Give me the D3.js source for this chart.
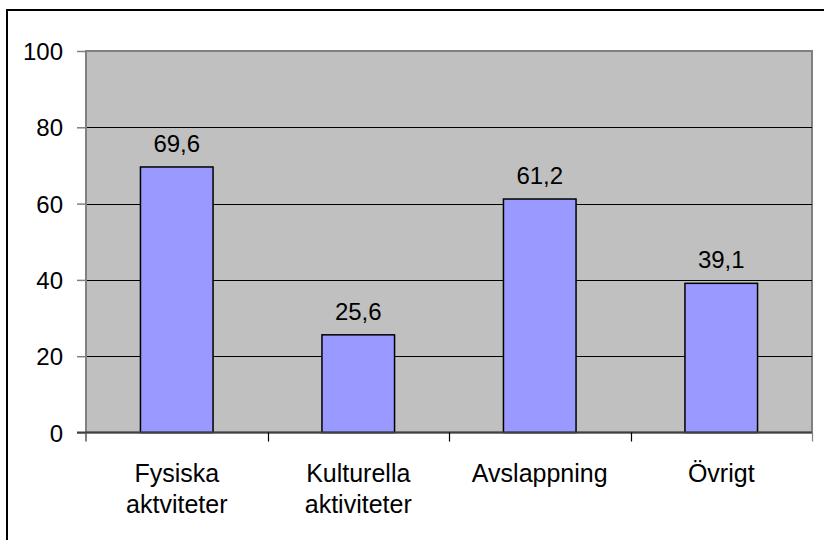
<!DOCTYPE html>
<html>
<head>
<meta charset="utf-8">
<script src="https://cdn.jsdelivr.net/npm/d3@7"></script>
<style>
html,body{margin:0;padding:0;background:#fff;}
svg{display:block;}
text{font-family:"Liberation Sans",Arial,sans-serif;fill:#000;}
</style>
</head>
<body>
<svg id="chart" width="824" height="540"></svg>
<script>
const categories = [["Fysiska","aktviteter"],["Kulturella","aktiviteter"],["Avslappning"],["Övrigt"]];
const values = [69.6, 25.6, 61.2, 39.1];
const valueLabels = ["69,6","25,6","61,2","39,1"];
const yTicks = [0, 20, 40, 60, 80, 100];

const svg = d3.select("#chart");
const pLeft = 86, pRight = 812, pTop = 51, pBottom = 432.5;

const keys = categories.map(c => c.join(" "));
const x = d3.scaleBand().domain(keys).range([pLeft, pRight]).paddingInner(0).paddingOuter(0);
const y = d3.scaleLinear().domain([0, 100]).range([pBottom, pTop]);

// outer border
svg.append("rect").attr("x", 7).attr("y", 10).attr("width", 900).attr("height", 700)
  .attr("fill", "#fff").attr("stroke", "#000").attr("stroke-width", 2);

// plot area
svg.append("rect").attr("x", pLeft).attr("y", pTop).attr("width", pRight - pLeft).attr("height", pBottom - pTop)
  .attr("fill", "#C0C0C0").attr("stroke", "#808080").attr("stroke-width", 2);

// gridlines
svg.append("g").selectAll("line").data(yTicks.filter(t => t > 0 && t < 100)).join("line")
  .attr("x1", pLeft).attr("x2", pRight)
  .attr("y1", d => Math.round(y(d)) + 0.5).attr("y2", d => Math.round(y(d)) + 0.5)
  .attr("stroke", "#000").attr("stroke-width", 1);

// bars
const bw = x.bandwidth() * 0.4;
svg.append("g").selectAll("rect").data(values).join("rect")
  .attr("x", (d, i) => x(keys[i]) + (x.bandwidth() - bw) / 2)
  .attr("y", d => y(d))
  .attr("width", bw)
  .attr("height", d => pBottom - y(d))
  .attr("fill", "#9999FF").attr("stroke", "#000").attr("stroke-width", 1.5);

// y axis
const yAxis = d3.axisLeft(y).tickValues(yTicks).tickSize(9).tickPadding(14).tickFormat(d3.format("d"));
const gy = svg.append("g").attr("transform", `translate(${pLeft},0)`).call(yAxis);
gy.select(".domain").attr("stroke", "#808080").attr("stroke-width", 2).attr("d", `M0,${pTop}V${pBottom + 9}`);
gy.selectAll(".tick line").attr("stroke", "#808080").attr("stroke-width", 1.5);
gy.selectAll(".tick text").attr("font-size", 24).attr("font-family", "Liberation Sans, Arial, sans-serif")
  .attr("dy", null).attr("dominant-baseline", "central").attr("fill", "#000");

// x axis line and boundary ticks
const bounds = keys.map(k => x(k)).concat([pRight]);
svg.append("line").attr("x1", pLeft - 9).attr("x2", pRight).attr("y1", pBottom).attr("y2", pBottom)
  .attr("stroke", "#404040").attr("stroke-width", 2);
svg.append("g").selectAll("line").data(bounds.slice(1)).join("line")
  .attr("x1", d => Math.round(d) + 0.5).attr("x2", d => Math.round(d) + 0.5)
  .attr("y1", pBottom).attr("y2", pBottom + 9)
  .attr("stroke", (d, i) => i === bounds.length - 2 ? "#808080" : "#000").attr("stroke-width", 1.2);

// category labels
const cl = svg.append("g").selectAll("text").data(categories).join("text")
  .attr("x", (d, i) => x(keys[i]) + x.bandwidth() / 2)
  .attr("y", 481.5)
  .attr("text-anchor", "middle").attr("font-size", 25);
cl.selectAll("tspan").data(d => d).join("tspan")
  .attr("x", function() { return d3.select(this.parentNode).attr("x"); })
  .attr("dy", (d, i) => i === 0 ? 0 : 31.5)
  .text(d => d);

// value labels
svg.append("g").selectAll("text").data(values).join("text")
  .attr("x", (d, i) => x(keys[i]) + x.bandwidth() / 2)
  .attr("y", d => y(d) - 15)
  .attr("text-anchor", "middle").attr("font-size", 24)
  .text((d, i) => valueLabels[i]);
</script>
</body>
</html>
